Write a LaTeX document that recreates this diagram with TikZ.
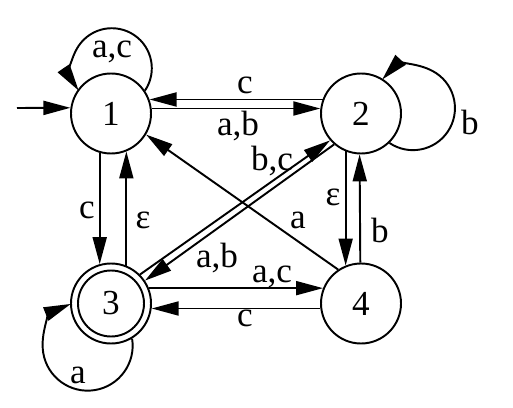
\documentclass[tikz,border=0pt]{standalone}
\usepackage{fontspec}
\setmainfont{Liberation Serif}
\usetikzlibrary{arrows.meta}

\begin{document}
\begin{tikzpicture}[line width=1.1pt,
    every node/.style={font=\fontsize{20}{24}\selectfont},
    stnode/.style={draw,circle,minimum size=1.6cm,inner sep=0pt},
    lbl/.style={inner sep=0pt},
    arr/.style={-{Triangle[length=0.54cm,width=0.28cm]}}]
  \useasboundingbox (0,0) rectangle (10.26,8.14);

  % states
  \node[stnode] (1) at (2.22,5.87) {1};
  \node[stnode] (2) at (7.22,5.87) {2};
  \node[stnode] (3) at (2.22,2.07) {3};
  \node[stnode] (4) at (7.22,2.07) {4};
  \draw (3) circle[radius=0.66cm];

  % start arrow
  \coordinate (start) at (0.34,5.98);
  \draw[arr] (start) -- (1.172);

  % self loops
  \draw[arr] (1.34) arc[start angle=-34,end angle=214,radius=0.8cm];
  \node[lbl] (l11) at (2.24,7.10) {a,c};
  \draw[arr] (2.-46) arc[start angle=-124,end angle=137,radius=0.84cm];
  \node[lbl] (l22) at (9.40,5.70) {b};
  \draw[arr] (3.-59) arc[start angle=9,end angle=-248,radius=0.9cm];
  \node[lbl] (l33) at (1.56,0.64) {a};

  % top pair
  \draw[arr] (1.7) -- (2.173);
  \node[lbl] (l12) at (4.76,5.62) {a,b};
  \draw[arr] (2.160) -- (1.20);
  \node[lbl] (l21) at (4.90,6.44) {c};

  % left pair
  \draw[arr] (1.254) -- (3.106);
  \node[lbl] (l13) at (1.74,3.94) {c};
  \draw[arr] (3.68) -- (1.292);
  \node[lbl] (l31) at (2.86,3.74) {ε};

  % right pair
  \draw[arr] (2.248) -- (4.112);
  \node[lbl] (l24) at (6.66,4.20) {ε};
  \draw[arr] (4.91.5) -- (2.268.5);
  \node[lbl] (l42) at (7.60,3.54) {b};

  % bottom pair
  \draw[arr] (3.22) -- (4.158);
  \node[lbl] (l34) at (5.44,2.60) {a,c};
  \draw[arr] (4.187) -- (3.353);
  \node[lbl] (l43) at (4.90,1.78) {c};

  % diagonals
  \draw[arr] (3.45) -- (2.221);
  \node[lbl] (l32) at (5.44,4.92) {b,c};
  \draw[arr] (2.229) -- (3.34);
  \node[lbl] (l23) at (4.34,2.98) {a,b};
  \draw[arr] (4.124) -- (1.-31);
  \node[lbl] (l41) at (5.96,3.74) {a};
\end{tikzpicture}
\end{document}
